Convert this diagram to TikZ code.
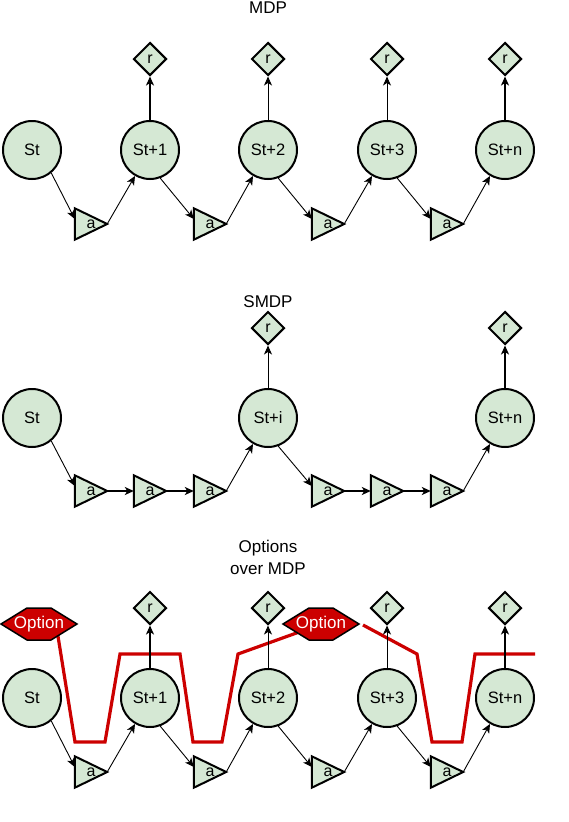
\documentclass[tikz,border=0pt]{standalone}
\usepackage{fontspec}
\setmainfont{Liberation Sans}
\usetikzlibrary{shapes.geometric,arrows.meta,calc,backgrounds}
\definecolor{nodegreen}{HTML}{D5E8D4}
\definecolor{optred}{HTML}{CC0000}
\begin{document}
\begin{tikzpicture}[x=1pt,y=-1pt,
  state/.style={circle,draw,line width=2pt,fill=nodegreen,minimum size=58pt,inner sep=0pt,font=\fontsize{16.5}{18}\selectfont},
  reward/.style={diamond,draw,line width=2pt,fill=nodegreen,minimum width=33pt,minimum height=33pt,inner sep=0pt,font=\fontsize{16}{18}\selectfont},
  actbox/.style={rectangle,minimum width=32pt,minimum height=31pt,inner sep=0pt,font=\fontsize{16}{18}\selectfont},
  actshape/.style={draw,line width=2pt,fill=nodegreen,line join=miter},
  tip/.style={-{Stealth[length=9pt,width=8pt,inset=2.5pt]}},
  thinarrow/.style={tip,line width=0.9pt},
  thickarrow/.style={tip,line width=1.8pt},
  title/.style={font=\fontsize{17}{22}\selectfont,align=center},
  redpath/.style={optred,line width=3.2pt,line join=miter},
  optshape/.style={draw,line width=1.5pt,fill=optred,line join=miter},
  opttext/.style={text=white,inner sep=0pt,font=\fontsize{17}{19}\selectfont}
]
\useasboundingbox (0,0) rectangle (568,822);

% ---------------- MDP ----------------
\node[title] (tmdp) at (268,8) {MDP};
\node[state] (m1) at (32,150) {St};
\node[state] (m2) at (150,150) {St+1};
\node[state] (m3) at (268,150) {St+2};
\node[state] (m4) at (387,150) {St+3};
\node[state] (m5) at (505,150) {St+n};
\node[reward] (mr2) at (150,59) {r};
\node[reward] (mr3) at (268,59) {r};
\node[reward] (mr4) at (387,59) {r};
\node[reward] (mr5) at (505,59) {r};
\node[actbox] (ma1) at (91,224) {a};
\node[actbox] (ma2) at (210,224) {a};
\node[actbox] (ma3) at (328,224) {a};
\node[actbox] (ma4) at (447,224) {a};

\draw[thinarrow] (m1.-50) -- ([yshift=5pt]ma1.west);
\draw[thinarrow] (ma1.east) -- (m2.-120);
\draw[thinarrow] (m2.-70) -- ([yshift=5pt]ma2.west);
\draw[thinarrow] (ma2.east) -- (m3.-120);
\draw[thinarrow] (m3.-70) -- ([yshift=5pt]ma3.west);
\draw[thinarrow] (ma3.east) -- (m4.-120);
\draw[thinarrow] (m4.-70) -- ([yshift=5pt]ma4.west);
\draw[thinarrow] (ma4.east) -- (m5.-120);
\draw[thickarrow] (m2.north) -- (mr2.south);
\draw[thinarrow] (m3.north) -- (mr3.south);
\draw[thinarrow] (m4.north) -- (mr4.south);
\draw[thickarrow] (m5.north) -- (mr5.south);

% ---------------- SMDP ----------------
\node[title] (tsmdp) at (268,302) {SMDP};
\node[state] (s1) at (32,418) {St};
\node[state] (s2) at (268,418) {St+i};
\node[state] (s3) at (505,418) {St+n};
\node[reward] (sr2) at (268,328) {r};
\node[reward] (sr3) at (505,328) {r};
\node[actbox] (sa1) at (91,491) {a};
\node[actbox] (sa2) at (150,491) {a};
\node[actbox] (sa3) at (210,491) {a};
\node[actbox] (sa4) at (328,491) {a};
\node[actbox] (sa5) at (387,491) {a};
\node[actbox] (sa6) at (447,491) {a};

\draw[thinarrow] (s1.-50) -- ([yshift=5pt]sa1.west);
\draw[thickarrow] (sa1.east) -- (sa2.west);
\draw[thickarrow] (sa2.east) -- (sa3.west);
\draw[thinarrow] (sa3.east) -- (s2.-120);
\draw[thinarrow] (s2.-70) -- ([yshift=5pt]sa4.west);
\draw[thickarrow] (sa4.east) -- (sa5.west);
\draw[thickarrow] (sa5.east) -- (sa6.west);
\draw[thinarrow] (sa6.east) -- (s3.-120);
\draw[thinarrow] (s2.north) -- (sr2.south);
\draw[thickarrow] (s3.north) -- (sr3.south);

% ---------------- Options over MDP ----------------
\node[title] (topt) at (268,557) {Options\\over MDP};
\node[state] (o1) at (32,698) {St};
\node[state] (o2) at (150,698) {St+1};
\node[state] (o3) at (268,698) {St+2};
\node[state] (o4) at (387,698) {St+3};
\node[state] (o5) at (505,698) {St+n};
\node[reward] (or2) at (150,608) {r};
\node[reward] (or3) at (268,608) {r};
\node[reward] (or4) at (387,608) {r};
\node[reward] (or5) at (505,608) {r};
\node[actbox] (oa1) at (91,772) {a};
\node[actbox] (oa2) at (210,772) {a};
\node[actbox] (oa3) at (328,772) {a};
\node[actbox] (oa4) at (447,772) {a};

\coordinate (hx1) at (39,624);
\coordinate (hx2) at (321,624);

% red option paths
\draw[redpath] ($(hx1)+(18,6)$) -- (75,742) -- (105,742) -- (120,654) -- (180,654)
  -- (193,742) -- (222,742) -- (238,654) -- ($(hx2)+(-19,7)$);
\draw[redpath] (363,625) -- (417,654) -- (432,742) -- (462,742) -- (475,654) -- (535,654);

% option hexagons
\filldraw[optshape] ($(hx1)+(-38,0)$) -- ($(hx1)+(-12,-16)$) -- ($(hx1)+(12,-16)$)
  -- ($(hx1)+(38,0)$) -- ($(hx1)+(12,16)$) -- ($(hx1)+(-12,16)$) -- cycle;
\node[opttext] (opt1) at (hx1) {Option};
\filldraw[optshape] ($(hx2)+(-38,0)$) -- ($(hx2)+(-12,-16)$) -- ($(hx2)+(12,-16)$)
  -- ($(hx2)+(38,0)$) -- ($(hx2)+(12,16)$) -- ($(hx2)+(-12,16)$) -- cycle;
\node[opttext] (opt2) at (hx2) {Option};

\draw[thinarrow] (o1.-50) -- ([yshift=5pt]oa1.west);
\draw[thinarrow] (oa1.east) -- (o2.-120);
\draw[thinarrow] (o2.-70) -- ([yshift=5pt]oa2.west);
\draw[thinarrow] (oa2.east) -- (o3.-120);
\draw[thinarrow] (o3.-70) -- ([yshift=5pt]oa3.west);
\draw[thinarrow] (oa3.east) -- (o4.-120);
\draw[thinarrow] (o4.-70) -- ([yshift=5pt]oa4.west);
\draw[thinarrow] (oa4.east) -- (o5.-120);
\draw[thickarrow] (o2.north) -- (or2.south);
\draw[thinarrow] (o3.north) -- (or3.south);
\draw[thinarrow] (o4.north) -- (or4.south);
\draw[thickarrow] (o5.north) -- (or5.south);

% triangles behind the action labels
\begin{pgfonlayer}{background}
\foreach \n in {ma1,ma2,ma3,ma4,sa1,sa2,sa3,sa4,sa5,sa6,oa1,oa2,oa3,oa4}
  \filldraw[actshape] (\n.north west) -- (\n.east) -- (\n.south west) -- cycle;
\end{pgfonlayer}
\end{tikzpicture}
\end{document}
